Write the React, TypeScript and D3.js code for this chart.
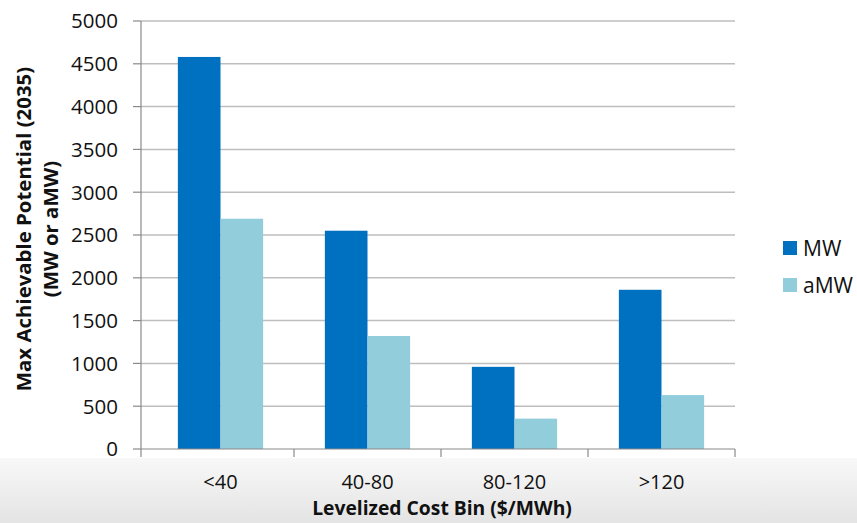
import React from "react";
import * as d3 from "d3";

const categories = ["<40", "40-80", "80-120", ">120"];
const seriesNames = ["MW", "aMW"];
const mwValues = [4580, 2550, 960, 1860];
const amwValues = [2690, 1320, 355, 630];
const yTicks = [0, 500, 1000, 1500, 2000, 2500, 3000, 3500, 4000, 4500, 5000];
const colors = ["#0070C0", "#92CDDC"];

const W = 857;
const H = 523;
const FONT = "'Open Sans', 'Noto Sans', sans-serif";

export default function App() {
  const axisX = 141;
  const plotRight = 735;
  const y = d3.scaleLinear().domain([0, 5000]).range([449, 21]);
  const x = d3.scaleBand<string>().domain(categories).range([147, plotRight]).paddingInner(0).paddingOuter(0);
  const barW = x.bandwidth() * 0.29;
  const inner = d3.scaleBand<string>().domain(seriesNames).range([x.bandwidth() / 2 - barW, x.bandwidth() / 2 + barW]);
  const series = [mwValues, amwValues];
  const boundaries = categories.map((c) => (x(c) as number) + x.bandwidth());

  return (
    <svg width={W} height={H} style={{ position: "absolute", left: 0, top: 0 }} fontFamily={FONT}>
      <defs>
        <linearGradient id="bg" x1="0" y1="0" x2="0" y2="1">
          <stop offset="0" stopColor="#f8f8f8" />
          <stop offset="1" stopColor="#e4e4e4" />
        </linearGradient>
      </defs>
      <rect x={0} y={0} width={W} height={H} fill="#ffffff" />
      <rect x={0} y={458} width={W} height={H - 458} fill="url(#bg)" />
      {yTicks.map((t) => (
        <g key={t}>
          {t > 0 && (
            <line x1={axisX} x2={plotRight} y1={y(t)} y2={y(t)} stroke="#BEBEBE" strokeWidth={1.5} />
          )}
          <line x1={axisX - 8} x2={axisX} y1={y(t)} y2={y(t)} stroke="#8a8a8a" strokeWidth={1.2} />
          <text x={118} y={y(t)} dy="0.36em" textAnchor="end" fontSize={20.5} fill="#111">
            {t}
          </text>
        </g>
      ))}
      {categories.map((c, ci) => (
        <g key={c} transform={`translate(${x(c)},0)`}>
          {series.map((vals, si) => (
            <rect
              key={si}
              x={inner(seriesNames[si]) as number}
              y={y(vals[ci])}
              width={inner.bandwidth()}
              height={y(0) - y(vals[ci])}
              fill={colors[si]}
            />
          ))}
          <text x={x.bandwidth() / 2} y={489} textAnchor="middle" fontSize={20} fill="#111">
            {c}
          </text>
        </g>
      ))}
      <line x1={axisX} x2={axisX} y1={y(5000)} y2={y(0)} stroke="#8a8a8a" strokeWidth={1.2} />
      <line x1={axisX} x2={plotRight} y1={y(0)} y2={y(0)} stroke="#8a8a8a" strokeWidth={1.2} />
      <line x1={axisX} x2={axisX} y1={y(0)} y2={y(0) + 8} stroke="#8a8a8a" strokeWidth={1.2} />
      {boundaries.map((b, i) => (
        <line key={i} x1={b} x2={b} y1={y(0)} y2={y(0) + 8} stroke="#8a8a8a" strokeWidth={1.2} />
      ))}
      <text
        transform={`translate(24,229) rotate(-90)`}
        textAnchor="middle"
        fontSize={20.4}
        fontWeight="bold"
        fill="#111"
      >
        <tspan x={0} dy="0.36em">Max Achievable Potential (2035)</tspan>
        <tspan x={0} dy="1.3em">(MW or aMW)</tspan>
      </text>
      <text x={442} y={515} textAnchor="middle" fontSize={19.3} fontWeight="bold" fill="#111">
        Levelized Cost Bin ($/MWh)
      </text>
      {seriesNames.map((s, i) => (
        <g key={s} transform={`translate(783,${241 + i * 37})`}>
          <rect x={0} y={0} width={14} height={14} fill={colors[i]} />
          <text x={20} y={7} dy="0.36em" fontSize={21} fill="#111">
            {s}
          </text>
        </g>
      ))}
    </svg>
  );
}
